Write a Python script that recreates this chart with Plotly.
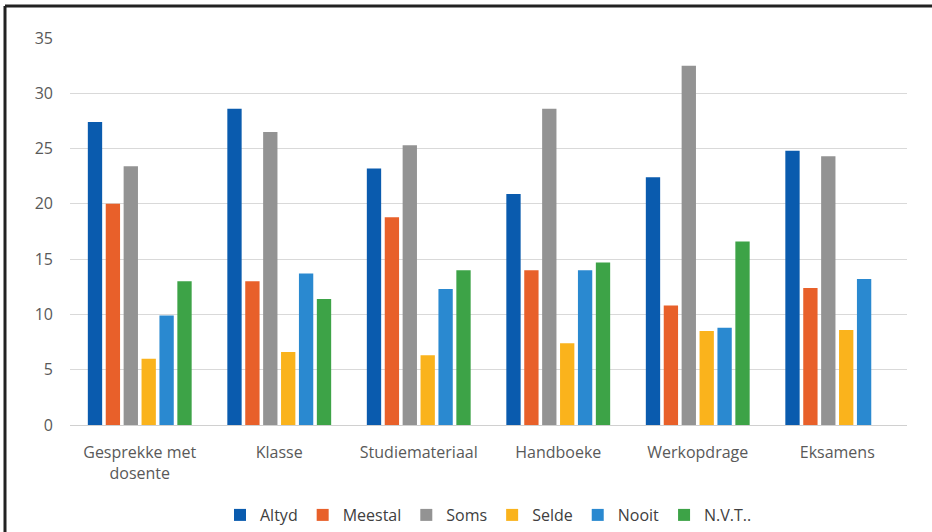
import plotly.graph_objects as go

categories = ["Gesprekke met<br>dosente", "Klasse", "Studiemateriaal", "Handboeke", "Werkopdrage", "Eksamens"]
series_names = ["Altyd", "Meestal", "Soms", "Selde", "Nooit", "N.V.T.."]
altyd = [27.4, 28.6, 23.2, 20.9, 22.4, 24.8]
meestal = [20.0, 13.0, 18.8, 14.0, 10.8, 12.4]
soms = [23.4, 26.5, 25.3, 28.6, 32.5, 24.3]
selde = [6.0, 6.6, 6.3, 7.4, 8.5, 8.6]
nooit = [9.9, 13.7, 12.3, 14.0, 8.8, 13.2]
nvt = [13.0, 11.4, 14.0, 14.7, 16.6, None]
colors = ["#0A5BAE", "#E8602A", "#939393", "#FAB31C", "#2A89D0", "#3DA347"]

fig = go.Figure()
for name, vals, col in zip(series_names, [altyd, meestal, soms, selde, nooit, nvt], colors):
    fig.add_trace(go.Bar(x=categories, y=vals, name=name, marker_color=col,
                         marker_line_width=0))

# frame drawn along the left and top edges of the page
frame_x = (5 - 70) / 837
frame_y = 1 + (38 - 6) / 387

fig.update_layout(
    width=932, height=532,
    margin=dict(l=70, r=25, t=38, b=107, autoexpand=False),
    paper_bgcolor="white", plot_bgcolor="white",
    barmode="group", bargap=0.23, bargroupgap=0.2,
    font=dict(family="Open Sans, Liberation Sans, sans-serif", size=16, color="#595959"),
    yaxis=dict(range=[0, 35], dtick=5, showgrid=True, gridcolor="#d9d9d9", gridwidth=1.3,
               zeroline=True, zerolinecolor="#d0d0d0", zerolinewidth=1.3,
               ticks="", ticklabelstandoff=16, showline=False, automargin=False,
               tickfont=dict(size=16, color="#595959")),
    xaxis=dict(showline=False, ticks="", ticklabelstandoff=16, automargin=False,
               tickfont=dict(size=16, color="#595959")),
    legend=dict(orientation="h", x=0.5, xanchor="center",
                yref="container", y=1 - 515 / 532, yanchor="middle",
                font=dict(size=16, color="#404040"), itemwidth=30,
                traceorder="normal"),
    shapes=[
        dict(type="line", xref="paper", yref="paper",
             x0=frame_x, x1=frame_x, y0=frame_y, y1=-0.4,
             line=dict(color="#222222", width=3)),
        dict(type="line", xref="paper", yref="paper",
             x0=frame_x, x1=1.1, y0=frame_y, y1=frame_y,
             line=dict(color="#222222", width=3)),
    ],
)

fig.write_html("out.html")
